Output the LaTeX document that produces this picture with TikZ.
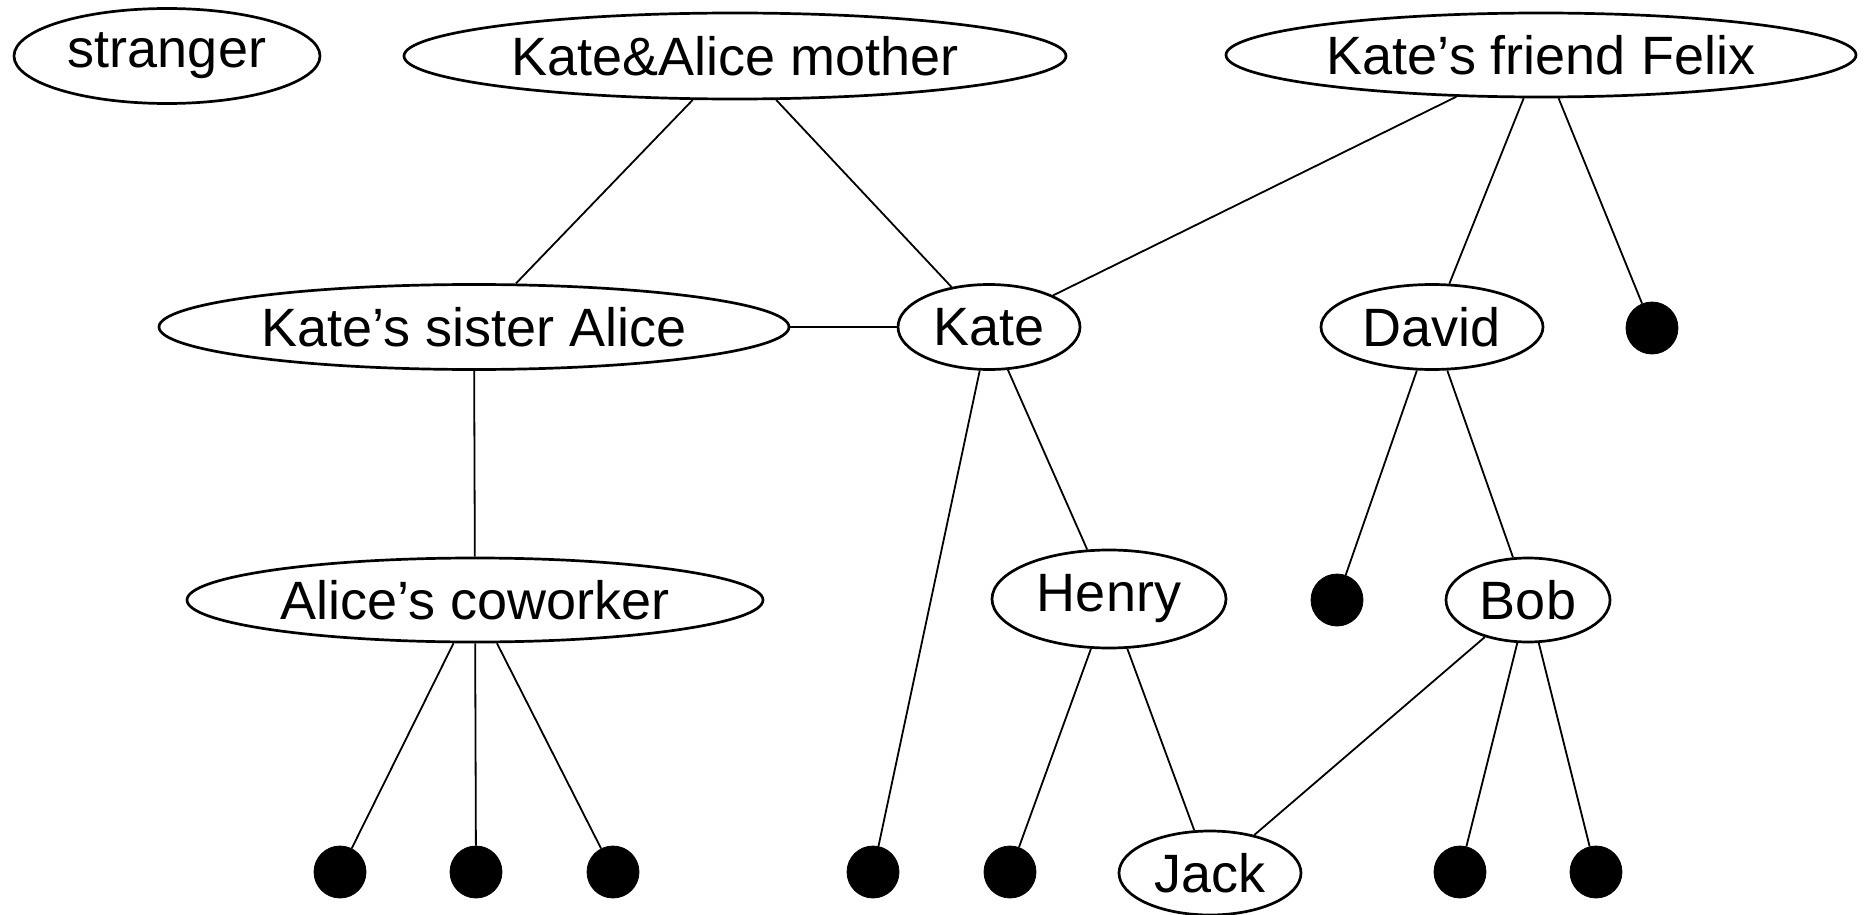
\documentclass[tikz,border=0pt]{standalone}
\usepackage{fontspec}
\setmainfont{Liberation Sans}
\usetikzlibrary{shapes.geometric}
\begin{document}
\begin{tikzpicture}[x=0.5pt,y=-0.5pt,
  ell/.style={draw, ellipse, line width=1.35pt, inner sep=0pt, font=\fontsize{27}{32}\selectfont},
  dot/.style={circle, fill=black, draw=black, inner sep=0pt, minimum size=26pt},
  edge/.style={line width=0.9pt}]
\useasboundingbox (0,0) rectangle (1870,915);
\node[ell, minimum width=153pt, minimum height=47.5pt] (stranger) at (167,56) {stranger};
\node[ell, minimum width=331pt, minimum height=43pt] (mother) at (735,56) {Kate\&Alice mother};
\node[ell, minimum width=315pt, minimum height=42pt] (felix) at (1541,55) {Kate’s friend Felix};
\node[ell, minimum width=315pt, minimum height=42.5pt] (alice) at (474,327) {Kate’s sister Alice};
\node[ell, minimum width=91pt, minimum height=42.5pt] (kate) at (989,327) {Kate};
\node[ell, minimum width=111pt, minimum height=42.5pt] (david) at (1432,327) {David};
\node[dot] (d1) at (1652,328) {};
\node[ell, minimum width=288pt, minimum height=42pt] (cow) at (475,600) {Alice’s coworker};
\node[ell, minimum width=117pt, minimum height=49pt] (henry) at (1109,599) {Henry};
\node[dot] (d2) at (1337,600) {};
\node[ell, minimum width=82pt, minimum height=42pt] (bob) at (1528,600) {Bob};
\node[ell, minimum width=91pt, minimum height=42pt] (jack) at (1210,873) {Jack};
\node[dot] (b1) at (340,872) {};
\node[dot] (b2) at (476,872) {};
\node[dot] (b3) at (613,872) {};
\node[dot] (b4) at (873,872) {};
\node[dot] (b5) at (1010,872) {};
\node[dot] (b6) at (1460,872) {};
\node[dot] (b7) at (1596,872) {};
\draw[edge] (mother) -- (alice);
\draw[edge] (mother) -- (kate);
\draw[edge] (felix) -- (kate);
\draw[edge] (felix) -- (david);
\draw[edge] (felix) -- (d1);
\draw[edge] (alice) -- (kate);
\draw[edge] (alice) -- (cow);
\draw[edge] (cow) -- (b1);
\draw[edge] (cow) -- (b2);
\draw[edge] (cow) -- (b3);
\draw[edge] (kate) -- (b4);
\draw[edge] (kate) -- (henry);
\draw[edge] (henry) -- (b5);
\draw[edge] (henry) -- (jack);
\draw[edge] (david) -- (d2);
\draw[edge] (david) -- (bob);
\draw[edge] (bob) -- (jack);
\draw[edge] (bob) -- (b6);
\draw[edge] (bob) -- (b7);
\end{tikzpicture}
\end{document}
